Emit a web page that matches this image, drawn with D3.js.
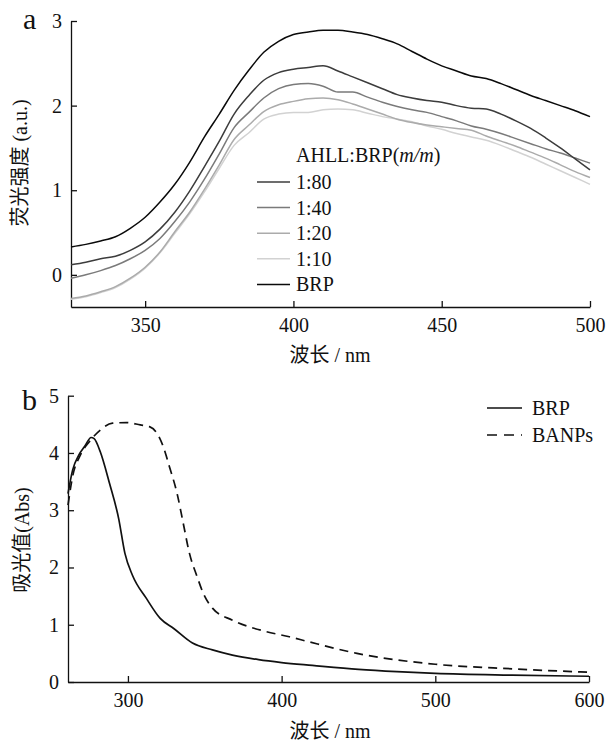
<!DOCTYPE html>
<html><head><meta charset="utf-8">
<script src="https://cdn.jsdelivr.net/npm/d3@7"></script>
<style>
body{margin:0;background:#fff;}
</style></head>
<body><svg id="c" width="607" height="747"></svg>
<script>
// ---- Panel a data ----
const waveA = [325,330,335,340,345,350,355,360,365,370,375,380,385,390,395,400,405,410,415,420,425,430,435,440,445,450,455,460,465,470,475,480,485,490,495,500];
const r80 = [0.12,0.15,0.19,0.22,0.29,0.39,0.54,0.74,0.99,1.28,1.58,1.90,2.12,2.30,2.39,2.43,2.45,2.47,2.41,2.34,2.27,2.20,2.13,2.09,2.06,2.04,2.00,1.97,1.96,1.90,1.82,1.73,1.62,1.50,1.37,1.24];
const r40 = [-0.04,0.00,0.05,0.11,0.19,0.29,0.43,0.63,0.86,1.13,1.43,1.74,1.92,2.09,2.20,2.25,2.26,2.23,2.16,2.16,2.10,2.04,1.99,1.95,1.92,1.87,1.82,1.76,1.72,1.67,1.61,1.55,1.49,1.44,1.38,1.32];
const r20 = [-0.28,-0.25,-0.20,-0.14,-0.04,0.09,0.27,0.51,0.74,1.01,1.30,1.60,1.77,1.93,2.01,2.05,2.08,2.09,2.07,2.02,1.96,1.90,1.84,1.80,1.77,1.75,1.73,1.71,1.64,1.58,1.52,1.45,1.38,1.30,1.22,1.15];
const r10 = [-0.29,-0.26,-0.21,-0.15,-0.05,0.08,0.26,0.49,0.72,0.98,1.26,1.53,1.68,1.84,1.90,1.92,1.92,1.95,1.96,1.95,1.91,1.87,1.84,1.81,1.76,1.72,1.67,1.63,1.59,1.53,1.46,1.39,1.31,1.23,1.15,1.07];
const brpA = [0.33,0.36,0.40,0.45,0.55,0.68,0.86,1.07,1.33,1.63,1.90,2.18,2.42,2.63,2.76,2.84,2.87,2.89,2.89,2.87,2.84,2.79,2.73,2.64,2.55,2.47,2.41,2.35,2.32,2.26,2.19,2.12,2.06,2.00,1.94,1.87];
const namesA = ["1:80","1:40","1:20","1:10","BRP"];
const colorsA = ["#3c3c3c","#7a7a7a","#ababab","#d2d2d2","#0a0a0a"];
const ticksAx = [350,400,450,500];
const ticksAy = [0,1,2,3];

// ---- Panel b data ----
const waveB1 = [261,264,268,272,276,278,282,288,294,298,303,312,321,330,342,355,368,385,400,420,450,475,500,550,600];
const brpB = [3.29,3.70,3.96,4.12,4.27,4.25,4.02,3.47,2.85,2.25,1.86,1.46,1.11,0.93,0.68,0.56,0.47,0.39,0.34,0.29,0.22,0.18,0.15,0.12,0.10];
const waveB2 = [261,264,269,275,282,290,299,308,314,319,323,327,332,336,340,345,349,355,368,390,405,418,449,500,550,600];
const banps = [3.09,3.59,3.96,4.20,4.40,4.52,4.53,4.49,4.46,4.34,4.11,3.76,3.29,2.77,2.25,1.84,1.55,1.29,1.08,0.88,0.79,0.70,0.50,0.31,0.23,0.17];
const namesB = ["BRP","BANPs"];
const ticksBx = [300,400,500,600];
const ticksBy = [0,1,2,3,4,5];

const FONT = "Liberation Serif, Noto Sans CJK SC";
const svg = d3.select("#c").attr("font-family",FONT);
const FS = 20;

function txt(x,y,s,size){
  return svg.append("text").attr("x",x).attr("y",y).attr("font-family",FONT)
    .attr("font-size",size||FS).attr("fill","#111").text(s);
}

function styleAxis(g){
  g.attr("font-family",FONT).attr("font-size",FS);
  g.select(".domain").attr("stroke","#111").attr("stroke-width",1.3);
  g.selectAll(".tick line").attr("stroke","#111").attr("stroke-width",1.3);
  g.selectAll(".tick text").attr("font-size",FS).attr("fill","#111").attr("font-family",FONT);
}

// ===== Panel a =====
const xA = d3.scaleLinear().domain([325,500]).range([71,590]);
const yA = d3.scaleLinear().domain([-0.38,3]).range([307,21]);
svg.append("g").attr("transform","translate(0,307)")
  .call(d3.axisBottom(xA).tickValues(ticksAx).tickSizeInner(-6).tickSizeOuter(0).tickPadding(11).tickFormat(d3.format("d")))
  .call(styleAxis);
svg.append("g").attr("transform","translate(71,0)")
  .call(d3.axisLeft(yA).tickValues(ticksAy).tickSizeInner(-6).tickSizeOuter(0).tickPadding(9).tickFormat(d3.format("d")))
  .call(styleAxis);

const seriesA = [r80,r40,r20,r10,brpA];
const lineA = d3.line().x((d,i)=>xA(waveA[i])).y(d=>yA(d)).curve(d3.curveMonotoneX);
const drawOrder = [3,2,1,0,4];
drawOrder.forEach(k=>{
  svg.append("path").datum(seriesA[k]).attr("d",lineA)
    .attr("fill","none").attr("stroke",colorsA[k]).attr("stroke-width",1.5);
});

// legend a
const hdr = txt(296,155,null).attr("dy","0.35em");
hdr.append("tspan").text("AHLL:BRP(");
hdr.append("tspan").attr("font-style","italic").text("m/m");
hdr.append("tspan").text(")");
namesA.forEach((n,i)=>{
  const y = 182 + i*25.6;
  svg.append("line").attr("x1",257).attr("x2",290).attr("y1",y).attr("y2",y)
    .attr("stroke",colorsA[i]).attr("stroke-width",1.5);
  txt(296,y,n).attr("dy","0.35em");
});

txt(23,29,"a",30);
txt(0,0,"荧光强度 (a.u.)").attr("transform","translate(27,163) rotate(-90)").attr("text-anchor","middle");
txt(330,362,"波长 / nm").attr("text-anchor","middle");

// ===== Panel b =====
const xB = d3.scaleLinear().domain([261,600]).range([68,589]);
const yB = d3.scaleLinear().domain([0,5]).range([682,395.7]);
svg.append("g").attr("transform","translate(0,682)")
  .call(d3.axisBottom(xB).tickValues(ticksBx).tickSizeInner(-6).tickSizeOuter(0).tickPadding(11).tickFormat(d3.format("d")))
  .call(styleAxis);
svg.append("g").attr("transform","translate(68,0)")
  .call(d3.axisLeft(yB).tickValues(ticksBy).tickSizeInner(-6).tickSizeOuter(0).tickPadding(9).tickFormat(d3.format("d")))
  .call(styleAxis);

const line1 = d3.line().x((d,i)=>xB(waveB1[i])).y(d=>yB(d)).curve(d3.curveMonotoneX);
const line2 = d3.line().x((d,i)=>xB(waveB2[i])).y(d=>yB(d)).curve(d3.curveMonotoneX);
svg.append("path").datum(banps).attr("d",line2).attr("fill","none")
  .attr("stroke","#111").attr("stroke-width",1.7).attr("stroke-dasharray","9,6");
svg.append("path").datum(brpB).attr("d",line1).attr("fill","none")
  .attr("stroke","#111").attr("stroke-width",1.7);

// legend b
namesB.forEach((n,i)=>{
  const y = 408 + i*27;
  svg.append("line").attr("x1",487).attr("x2",522).attr("y1",y).attr("y2",y)
    .attr("stroke","#111").attr("stroke-width",1.5)
    .attr("stroke-dasharray", i===1 ? "10,7" : null);
  txt(532,y,n).attr("dy","0.35em");
});

txt(22,410,"b",30);
txt(0,0,"吸光值(Abs)").attr("transform","translate(29,540) rotate(-90)").attr("text-anchor","middle");
txt(330,738,"波长 / nm").attr("text-anchor","middle");
</script></body></html>
